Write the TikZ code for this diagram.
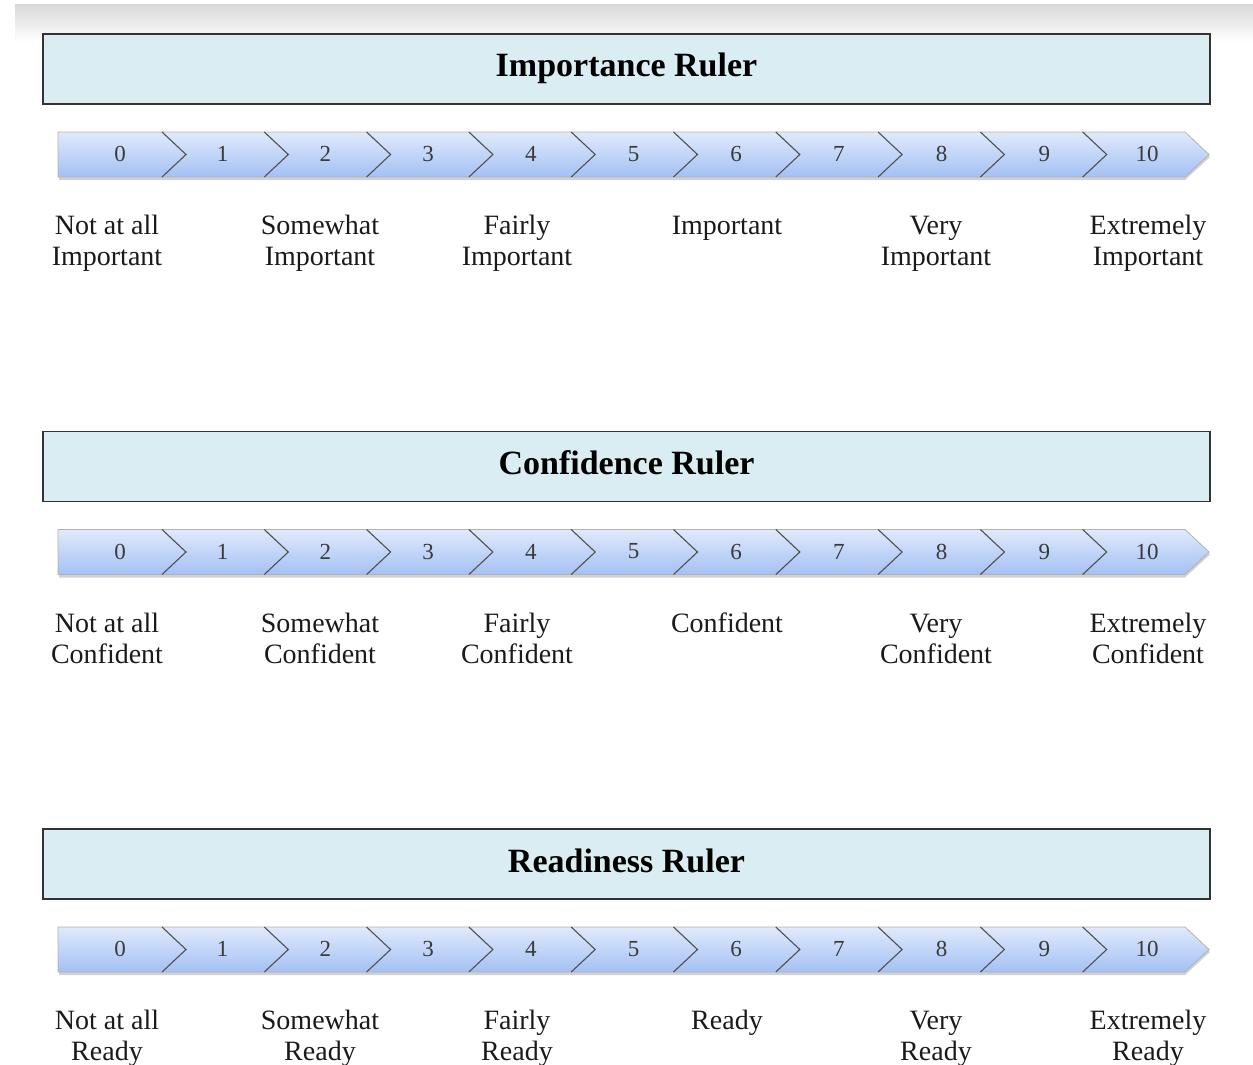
\documentclass[tikz,border=0pt]{standalone}
\usepackage{fontspec}
\setmainfont{Liberation Serif}
\definecolor{titlefill}{HTML}{DAEDF2}
\definecolor{titleborder}{HTML}{333333}
\definecolor{chevtop}{HTML}{E0EAFC}
\definecolor{chevbot}{HTML}{A4C0F3}
\definecolor{chevline}{HTML}{505050}
\definecolor{numcol}{HTML}{3A3A3A}
\definecolor{labcol}{HTML}{1A1A1A}
\begin{document}
\begin{tikzpicture}[x=1pt,y=-1pt,
  titlebox/.style={draw=titleborder, line width=1.6pt, fill=titlefill, minimum width=1167pt, minimum height=70pt, inner sep=0pt},
  titletext/.style={font=\fontsize{34}{38}\selectfont\bfseries, text=black, inner sep=0pt},
  numtext/.style={font=\fontsize{23}{25}\selectfont, text=numcol, inner sep=0pt},
  labtext/.style={font=\fontsize{28}{31}\selectfont, align=center, text=labcol, inner sep=0pt, anchor=north},
  chevshade/.style={top color=chevtop, bottom color=chevbot},
  chevedge/.style={draw=chevline, line width=1.1pt},
  barrim/.style={draw=gray!60, line width=0.8pt},
  barshadow/.style={fill=black, opacity=0.18}]
\useasboundingbox (0,0) rectangle (1253,1065);
\shade[top color=gray!30, bottom color=white] (15,5) rectangle (1253,42);
\foreach \r/\off/\ttl/\word in {1/0/Importance Ruler/Important, 2/397.5/Confidence Ruler/Confident, 3/795/Readiness Ruler/Ready}{
  \node[titlebox] (box\r) at (626.5,69+\off) {};
  \node[titletext, anchor=base] (title\r) at (626.5,77+\off) {\ttl};
  % bar shadow
  \fill[barshadow] (59,135+\off) -- (1185,135+\off) -- (1210,157+\off) -- (1185,180+\off) -- (59,180+\off) -- cycle;
  \foreach \k in {0,...,10}{
    \pgfmathsetmacro\xR{162+102.3*\k}
    \pgfmathsetmacro\xL{\k==0 ? 58 : 162+102.3*(\k-1)}
    \pgfmathsetmacro\dL{\k==0 ? 0 : 24}
    \shade[chevshade] (\xL,132+\off) -- (\xR,132+\off) -- (\xR+24,154.5+\off) -- (\xR,177+\off) -- (\xL,177+\off) -- (\xL+\dL,154.5+\off) -- cycle;
  }
  \draw[barrim] (58,132+\off) -- (1185,132+\off) -- (1209,154.5+\off) -- (1185,177+\off) -- (58,177+\off) -- cycle;
  \foreach \k in {0,...,9}{
    \pgfmathsetmacro\xR{162+102.3*\k}
    \draw[chevedge] (\xR,132+\off) -- (\xR+24,154.5+\off) -- (\xR,177+\off);
  }
  \foreach \k in {0,...,10}{
    \node[numtext] (n\r-\k) at (120+102.7*\k,154+\off) {\k};
  }
  \node[labtext] (a\r) at (107,215+\off) {\vphantom{Il}Not at all\\\word};
  \node[labtext] (b\r) at (320,215+\off) {\vphantom{Il}Somewhat\\\word};
  \node[labtext] (c\r) at (517,215+\off) {\vphantom{Il}Fairly\\\word};
  \node[labtext] (d\r) at (727,215+\off) {\vphantom{Il}\word};
  \node[labtext] (e\r) at (936,215+\off) {\vphantom{Il}Very\\\word};
  \node[labtext] (f\r) at (1148,215+\off) {\vphantom{Il}Extremely\\\word};
}
\end{tikzpicture}
\end{document}
